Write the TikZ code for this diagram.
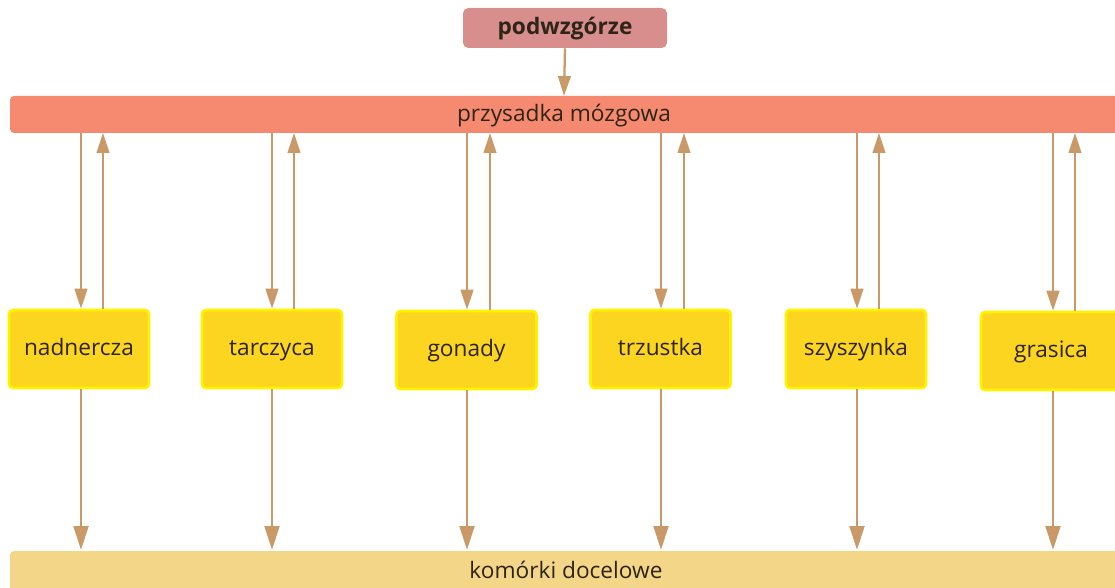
\documentclass[tikz,border=0pt]{standalone}
\usepackage{fontspec}
\setmainfont{Open Sans}
\usetikzlibrary{arrows.meta}
\definecolor{pinkbox}{HTML}{D98E8E}
\definecolor{salmon}{HTML}{F58A70}
\definecolor{ybox}{HTML}{FCD520}
\definecolor{yborder}{HTML}{FFF200}
\definecolor{sand}{HTML}{F3D688}
\definecolor{arrc}{HTML}{C99A68}
\definecolor{txt}{HTML}{2E2418}
\begin{document}
\begin{tikzpicture}[x=0.75pt,y=-0.75pt,
  lbl/.style={text=txt,font=\fontsize{17}{20}\selectfont,text height=1.0em,text depth=0em,inner sep=0pt},
  organ/.style={lbl,draw=yborder,line width=2pt,fill=ybox,rounded corners=3pt,minimum width=105pt,minimum height=58.5pt},
  arr/.style={draw=arrc,line width=1.7pt,-{Triangle[length=15pt,width=9.5pt]}},
  arrbig/.style={draw=arrc,line width=2.2pt,-{Triangle[length=18pt,width=11pt]}}]
\useasboundingbox (0,0) rectangle (1115,588);
\begin{scope}
\clip (0,0) rectangle (1115,588);
% bars
\fill[salmon,rounded corners=3pt] (10,96) rectangle (1140,133);
\node[lbl] (bar) at (564,114.5) {przysadka mózgowa};
\coordinate (bartop) at (564,96);
\coordinate (barbot) at (564,133);
\fill[sand,rounded corners=3pt] (10,551) rectangle (1140,600);
\node[lbl] (cells) at (566,572) {komórki docelowe};
\coordinate (cellstop) at (566,550);
% top box
\node[lbl,fill=pinkbox,rounded corners=4pt,minimum width=153pt,minimum height=30pt,font=\bfseries\fontsize{17}{20}\selectfont] (hyp) at (565,28) {podwzgórze};
\draw[arr] (hyp.south) -- (bartop);
% organ boxes
\node[organ] (n1) at (79,349) {nadnercza};
\node[organ] (n2) at (272,349) {tarczyca};
\node[organ] (n3) at (466.5,350) {gonady};
\node[organ] (n4) at (660.5,349) {trzustka};
\node[organ] (n5) at (856,349) {szyszynka};
\node[organ] (n6) at (1051,351) {grasica};
% arrows
\foreach \n/\d/\u in {n1/81/103, n2/272/294, n3/467/490, n4/661/684, n5/857/879, n6/1053/1075}{
  \coordinate (d\n) at (\d,0);
  \coordinate (u\n) at (\u,0);
  \draw[arr] (barbot -| d\n) -- (\n.north -| d\n);
  \draw[arr] (\n.north -| u\n) -- (barbot -| u\n);
  \draw[arrbig] (\n.south -| d\n) -- (cellstop -| d\n);
}
\end{scope}
\end{tikzpicture}
\end{document}
